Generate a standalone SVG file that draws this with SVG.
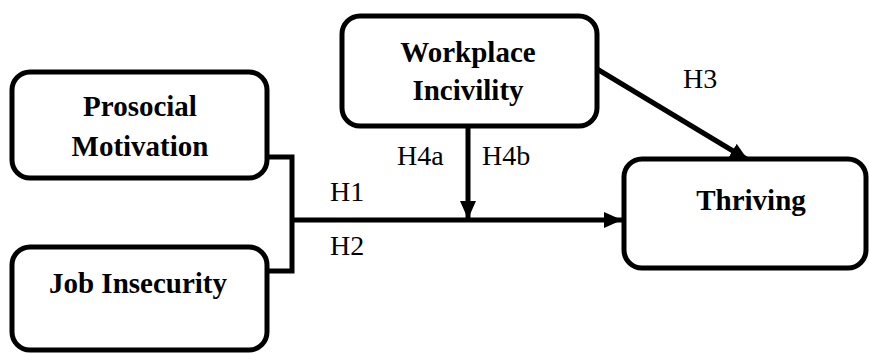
<svg xmlns="http://www.w3.org/2000/svg" width="869" height="354" viewBox="0 0 869 354">
<style>
.box{fill:#fff;stroke:#000;stroke-width:5}
.bt{font-family:"Liberation Serif","Times New Roman",serif;font-weight:bold;font-size:29px;text-anchor:middle;fill:#000}
.lb{font-family:"Liberation Serif","Times New Roman",serif;font-size:28px;fill:#000}
.ln{fill:none;stroke:#000;stroke-width:5}
</style>
<defs>
<marker id="ah" markerUnits="userSpaceOnUse" markerWidth="18" markerHeight="16" viewBox="0 0 18 16" refX="18" refY="8" orient="auto">
<path d="M0,0 L18,8 L0,16 Z" fill="#000"/>
</marker>
</defs>
<g id="connectors">
<polyline class="ln" points="267,157 292,157 292,271 267,271"/>
<line class="ln" x1="290" y1="220" x2="622" y2="220" marker-end="url(#ah)"/>
<line class="ln" x1="468" y1="127" x2="468" y2="219" marker-end="url(#ah)"/>
<line class="ln" x1="597" y1="69" x2="748" y2="160" marker-end="url(#ah)"/>
<text class="lb" x="330" y="201">H1</text>
<text class="lb" x="330" y="255">H2</text>
<text class="lb" x="683" y="88">H3</text>
<text class="lb" x="397" y="165">H4a</text>
<text class="lb" x="482" y="165">H4b</text>
</g>
<g id="prosocial">
<rect class="box" x="12" y="72" width="255" height="106" rx="18"/>
<text class="bt" x="140" y="116">Prosocial</text>
<text class="bt" x="140" y="156">Motivation</text>
</g>
<g id="job-insecurity">
<rect class="box" x="12" y="247" width="255" height="103" rx="18"/>
<text class="bt" x="138" y="293">Job Insecurity</text>
</g>
<g id="workplace-incivility">
<rect class="box" x="342" y="16" width="255" height="110" rx="18"/>
<text class="bt" x="468" y="62">Workplace</text>
<text class="bt" x="468" y="100">Incivility</text>
</g>
<g id="thriving">
<rect class="box" x="624" y="159" width="242" height="109" rx="18"/>
<text class="bt" x="751" y="210">Thriving</text>
</g>
</svg>
